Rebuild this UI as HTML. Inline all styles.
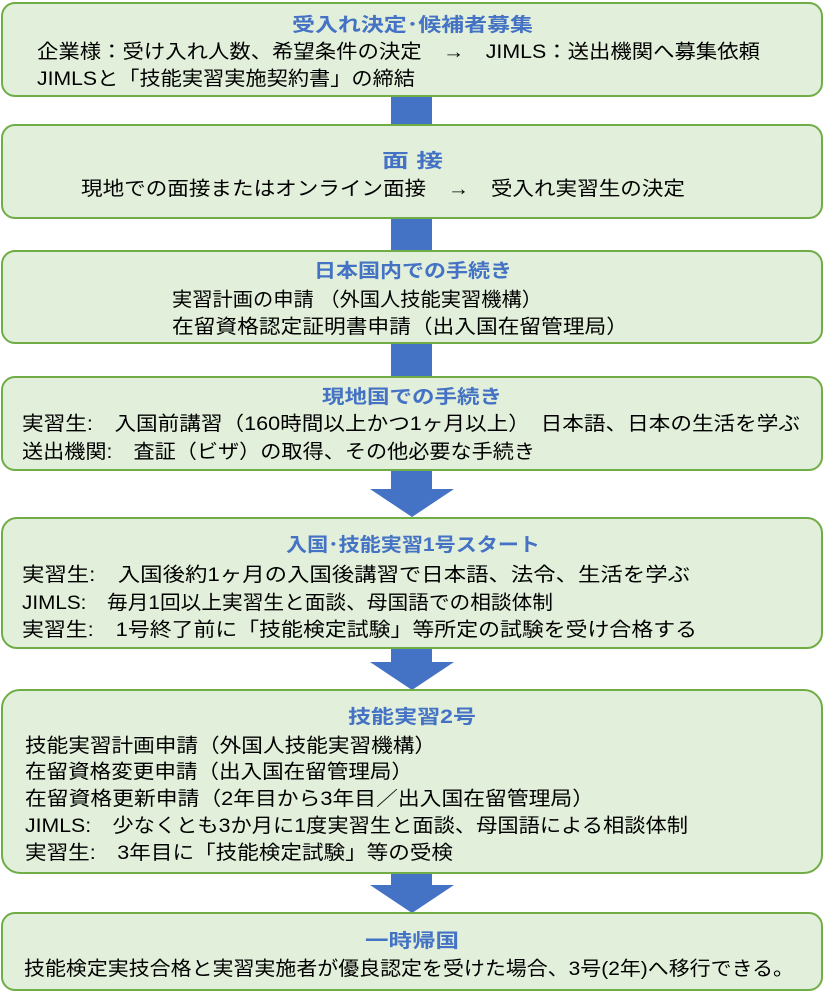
<!DOCTYPE html>
<html><head><meta charset="utf-8"><style>
html,body{margin:0;padding:0;background:#fff}
svg{display:block}
text{font-family:"Liberation Sans","Noto Sans CJK JP",sans-serif;font-size:19.5px;fill:#000}
.t{fill:#4472c4;font-weight:bold;font-size:19px}
</style></head><body>
<svg width="824" height="993" viewBox="0 0 824 993" xmlns="http://www.w3.org/2000/svg">
<g fill="#4472c4">
<rect x="391" y="96" width="41" height="30"/>
<rect x="391" y="218" width="41" height="34"/>
<rect x="391" y="343" width="41" height="35"/>
<polygon points="391,470 432,470 432,489 454,489 412,517 370,489 391,489"/>
<polygon points="391,648 432,648 432,662 454,662 412,690 370,662 391,662"/>
<polygon points="391,873 432,873 432,885 454,885 412,913 370,885 391,885"/>
</g>
<g fill="#e2efda" stroke="#70ad47" stroke-width="2">
<rect x="2" y="3" width="820" height="93" rx="13"/>
<rect x="2" y="125" width="820" height="93" rx="13"/>
<rect x="2" y="251" width="820" height="92" rx="13"/>
<rect x="2" y="377" width="820" height="93" rx="13"/>
<rect x="2" y="518" width="820" height="130" rx="15"/>
<rect x="2" y="690" width="820" height="183" rx="18"/>
<rect x="2" y="913" width="820" height="77" rx="13"/>
</g>
<text class="t" x="292" y="31" textLength="241" lengthAdjust="spacingAndGlyphs">受入れ決定･候補者募集</text>
<text x="37" y="58" textLength="723" lengthAdjust="spacingAndGlyphs">企業様：受け入れ人数、希望条件の決定　→　JIMLS：送出機関へ募集依頼</text>
<text x="37" y="85" textLength="378" lengthAdjust="spacingAndGlyphs">JIMLSと「技能実習実施契約書」の締結</text>

<text class="t" x="382" y="167" textLength="61" lengthAdjust="spacingAndGlyphs">面 接</text>
<text x="81" y="195" textLength="604" lengthAdjust="spacingAndGlyphs">現地での面接またはオンライン面接　→　受入れ実習生の決定</text>

<text class="t" x="314" y="277" textLength="198" lengthAdjust="spacingAndGlyphs">日本国内での手続き</text>
<text x="172" y="306" textLength="370" lengthAdjust="spacingAndGlyphs">実習計画の申請 （外国人技能実習機構）</text>
<text x="172" y="333" textLength="456" lengthAdjust="spacingAndGlyphs">在留資格認定証明書申請（出入国在留管理局）</text>

<text class="t" x="322" y="403" textLength="180" lengthAdjust="spacingAndGlyphs">現地国での手続き</text>
<text x="22" y="430" textLength="778" lengthAdjust="spacingAndGlyphs">実習生:　入国前講習（160時間以上かつ1ヶ月以上）　日本語、日本の生活を学ぶ</text>
<text x="22" y="458" textLength="513" lengthAdjust="spacingAndGlyphs">送出機関:　査証（ビザ）の取得、その他必要な手続き</text>

<text class="t" x="286" y="551" textLength="254" lengthAdjust="spacingAndGlyphs">入国･技能実習1号スタート</text>
<text x="22" y="581" textLength="668" lengthAdjust="spacingAndGlyphs">実習生:　入国後約1ヶ月の入国後講習で日本語、法令、生活を学ぶ</text>
<text x="22" y="609" textLength="531" lengthAdjust="spacingAndGlyphs">JIMLS:　毎月1回以上実習生と面談、母国語での相談体制</text>
<text x="22" y="636" textLength="675" lengthAdjust="spacingAndGlyphs">実習生:　1号終了前に「技能検定試験」等所定の試験を受け合格する</text>

<text class="t" x="348" y="723" textLength="128" lengthAdjust="spacingAndGlyphs">技能実習2号</text>
<text x="25" y="752" textLength="411" lengthAdjust="spacingAndGlyphs">技能実習計画申請（外国人技能実習機構）</text>
<text x="25" y="778" textLength="388" lengthAdjust="spacingAndGlyphs">在留資格変更申請（出入国在留管理局）</text>
<text x="25" y="805" textLength="569" lengthAdjust="spacingAndGlyphs">在留資格更新申請（2年目から3年目／出入国在留管理局）</text>
<text x="25" y="832" textLength="663" lengthAdjust="spacingAndGlyphs">JIMLS:　少なくとも3か月に1度実習生と面談、母国語による相談体制</text>
<text x="25" y="859" textLength="428" lengthAdjust="spacingAndGlyphs">実習生:　3年目に「技能検定試験」等の受検</text>

<text class="t" x="365" y="947" textLength="94" lengthAdjust="spacingAndGlyphs">一時帰国</text>
<text x="24" y="975" textLength="770" lengthAdjust="spacingAndGlyphs">技能検定実技合格と実習実施者が優良認定を受けた場合、3号(2年)へ移行できる。</text>
</svg>
</body></html>
